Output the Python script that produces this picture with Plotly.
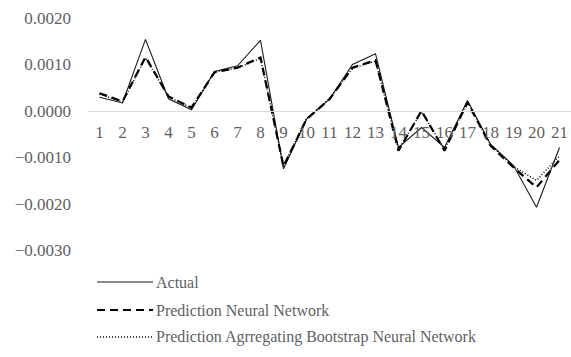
import plotly.graph_objects as go

categories = [str(i) for i in range(1, 22)]
actual = [0.00029, 0.00017, 0.00154, 0.00026, 0.00002, 0.00085, 0.00097, 0.00152, -0.00125, -0.00018,
          0.00025, 0.00100, 0.00123, -0.00079, -0.00036, -0.00079, 0.00022, -0.00072, -0.00118, -0.00208, -0.00079]
pred_nn = [0.00038, 0.00020, 0.00116, 0.00031, 0.00007, 0.00083, 0.00093, 0.00115, -0.00120, -0.00018,
           0.00025, 0.00093, 0.00109, -0.00086, 0.00000, -0.00086, 0.00018, -0.00075, -0.00122, -0.00165, -0.00106]
pred_bag = [0.00036, 0.00019, 0.00114, 0.00030, 0.00006, 0.00084, 0.00092, 0.00113, -0.00118, -0.00017,
            0.00026, 0.00092, 0.00107, -0.00083, -0.00002, -0.00083, 0.00019, -0.00073, -0.00120, -0.00150, -0.00097]
series_names = ["Actual", "Prediction Neural Network", "Prediction Agrregating Bootstrap Neural Network"]

FONT = "Liberation Serif, Times New Roman, Tinos, DejaVu Serif, serif"
GRAY = "#5f5f5f"

fig = go.Figure()
styles = [dict(color="#1a1a1a", width=1.1, dash="solid"),
          dict(color="#000000", width=2.2, dash="8px,5px"),
          dict(color="#000000", width=1.5, dash="1px,2px")]
for name, vals, st in zip(series_names, [actual, pred_nn, pred_bag], styles):
    fig.add_trace(go.Scatter(x=categories, y=vals, mode="lines", name=name, line=st, showlegend=False))

FW, FH = 571, 357
L, R, T, B = 88, 0, 18, 107
W, H = FW - L - R, FH - T - B
def px_x(p):
    return (p - L) / W
def px_y(p):
    return (FH - B - p) / H
rows = [282, 310, 337]
shapes = []
annotations = []
for name, st, ry in zip(series_names, styles, rows):
    shapes.append(dict(type="line", xref="paper", yref="paper", x0=px_x(97), x1=px_x(153),
                       y0=px_y(ry), y1=px_y(ry), line=st))
    annotations.append(dict(xref="paper", yref="paper", x=px_x(154), y=px_y(ry), text=name,
                            showarrow=False, xanchor="left", yanchor="middle",
                            font=dict(family=FONT, size=16, color=GRAY)))

fig.update_layout(
    width=FW, height=FH,
    margin=dict(l=L, r=R, t=T, b=B),
    plot_bgcolor="white", paper_bgcolor="white",
    shapes=shapes, annotations=annotations,
    xaxis=dict(type="category", anchor="free", position=0.6, showline=True, linecolor="#d9d9d9",
               linewidth=1, showgrid=False, ticks="", ticklabelstandoff=6,
               tickfont=dict(family=FONT, size=17, color=GRAY), range=[-0.5, 20.5]),
    yaxis=dict(range=[-0.003, 0.002], dtick=0.001, tick0=0, tickformat=".4f", showgrid=False,
               zeroline=False, showline=False, ticks="", ticklabelstandoff=16,
               tickfont=dict(family=FONT, size=17, color=GRAY)),
)
fig.write_html(
    "out.html",
    config={"displayModeBar": False},
    post_script="document.body.style.margin='0';document.body.style.overflow='hidden';"
                "document.documentElement.style.overflow='hidden';",
)
